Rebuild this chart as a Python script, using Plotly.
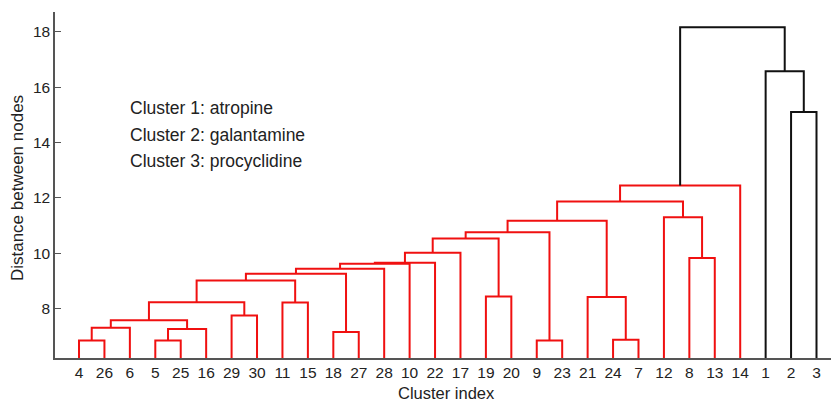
import plotly.graph_objects as go

# Leaf order along the x axis (cluster index labels)
leaf_labels = [4, 26, 6, 5, 25, 16, 29, 30, 11, 15, 18, 27, 28, 10, 22,
               17, 19, 20, 9, 23, 21, 24, 7, 12, 8, 13, 14, 1, 2, 3]

# Linkage: leaves are ids 1..30, merge k creates node id 30+k
merge_left = [4, 5, 9, 24, 18, 32, 31, 37, 29, 38, 11, 21, 19, 40, 44,
              45, 46, 47, 8, 48, 50, 51, 52, 12, 53, 55, 2, 1, 56]
merge_right = [26, 25, 23, 7, 27, 16, 6, 36, 30, 39, 15, 34, 20, 41, 35,
               28, 10, 22, 13, 17, 43, 33, 42, 49, 54, 14, 3, 57, 58]
merge_height = [6.85, 6.85, 6.85, 6.88, 7.16, 7.27, 7.31, 7.58, 7.75, 8.23,
                8.22, 8.42, 8.44, 9.02, 9.26, 9.44, 9.62, 9.66, 9.83, 10.02,
                10.53, 10.76, 11.17, 11.30, 11.87, 12.45, 15.10, 16.57, 18.16]

color_threshold = 12.7
cluster_notes = ["Cluster 1: atropine", "Cluster 2: galantamine", "Cluster 3: procyclidine"]
y_ticks = [8, 10, 12, 14, 16, 18]

n = len(leaf_labels)
pos = {lab: i + 1 for i, lab in enumerate(leaf_labels)}
hgt = {lab: 0.0 for lab in leaf_labels}

red_x, red_y, blk_x, blk_y = [], [], [], []
for k, (a, b, h) in enumerate(zip(merge_left, merge_right, merge_height)):
    nid = n + k + 1
    xa, xb = pos[a], pos[b]
    xs = [xa, xa, xb, xb, None]
    ys = [hgt[a], h, h, hgt[b], None]
    if h < color_threshold:
        red_x += xs; red_y += ys
    else:
        blk_x += xs; blk_y += ys
    pos[nid] = (xa + xb) / 2
    hgt[nid] = h

fig = go.Figure()
fig.add_trace(go.Scatter(x=red_x, y=red_y, mode="lines",
                         line=dict(color="#f01010", width=2), hoverinfo="skip"))
fig.add_trace(go.Scatter(x=blk_x, y=blk_y, mode="lines",
                         line=dict(color="#111111", width=2), hoverinfo="skip"))

font = "Liberation Sans, Arial, sans-serif"
note_y = [0.7225, 0.6445, 0.569]
for t, yy in zip(cluster_notes, note_y):
    fig.add_annotation(x=0.094, y=yy, xref="paper", yref="paper",
                       text=t, showarrow=False, xanchor="left", yanchor="middle",
                       font=dict(size=17.5, color="#222", family=font))

fig.add_annotation(x=0.505, y=-0.1, xref="paper", yref="paper", text="Cluster index",
                   showarrow=False, xanchor="center", yanchor="middle",
                   font=dict(size=16.5, color="#222", family=font))
fig.add_annotation(x=-0.049, y=0.491, xref="paper", yref="paper", text="Distance between nodes",
                   showarrow=False, xanchor="center", yanchor="middle", textangle=-90,
                   font=dict(size=17, color="#222", family=font))

fig.update_layout(
    width=831, height=402,
    margin=dict(l=55, r=0, t=12, b=44),
    paper_bgcolor="white", plot_bgcolor="white",
    showlegend=False,
    font=dict(family=font, size=15.5, color="#222"),
    xaxis=dict(range=[0.056, 30.57], tickmode="array", automargin=False,
               tickvals=list(range(1, n + 1)), ticktext=[str(v) for v in leaf_labels],
               ticks="", showline=True, linecolor="#555", linewidth=1.5,
               showgrid=False, zeroline=False),
    yaxis=dict(range=[6.22, 18.71], tickvals=y_ticks, ticks="inside", ticklen=6,
               automargin=False, tickwidth=1.2,
               tickcolor="#555", showline=True, linecolor="#555", linewidth=1.5,
               showgrid=False, zeroline=False),
)

fig.write_html("out.html", config={"displayModeBar": False},
               post_script="document.body.style.margin='0';document.body.style.overflow='hidden';")
